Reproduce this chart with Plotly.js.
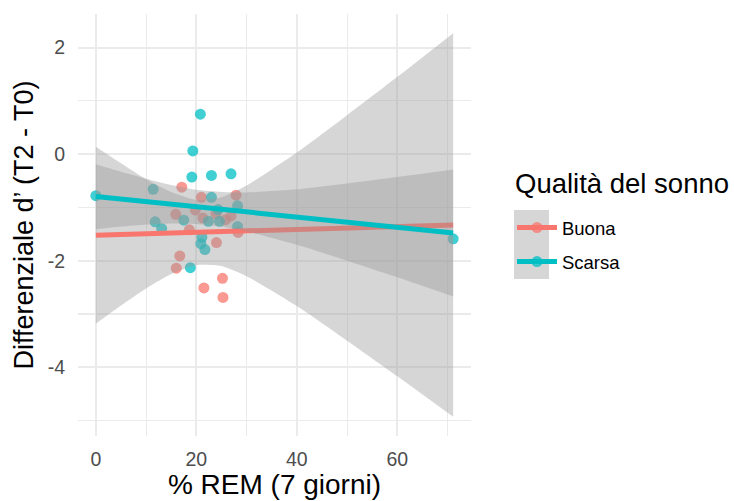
<!DOCTYPE html>
<html>
<head>
<meta charset="utf-8">
<script src="https://cdn.plot.ly/plotly-3.0.1.min.js"></script>
<style>
  html, body { margin: 0; padding: 0; background: #ffffff; }
  #chart { width: 734px; height: 501px; }
</style>
</head>
<body>
<div id="chart"></div>
<script>
// Individual observations: % REM over 7 days vs change in d' (T2 - T0)
const buonaX = [17.1, 21.0, 27.9, 15.9, 19.8, 21.3, 23.9, 26.9, 25.8, 18.6, 28.3, 24.0, 16.7, 16.0, 25.2, 21.5, 25.3];
const buonaY = [-0.62, -0.81, -0.77, -1.13, -1.05, -1.20, -1.12, -1.16, -1.23, -1.42, -1.47, -1.66, -1.91, -2.14, -2.33, -2.51, -2.69];

const scarsaX = [0.0, 20.8, 19.3, 19.1, 23.0, 26.9, 11.4, 23.0, 11.8, 13.1, 17.5, 21.1, 20.9, 21.7, 18.8, 22.4, 24.6, 24.3, 28.2, 28.2, 71.1];
const scarsaY = [-0.78, 0.75, 0.06, -0.43, -0.40, -0.37, -0.66, -0.81, -1.27, -1.40, -1.24, -1.56, -1.68, -1.79, -2.13, -1.26, -1.26, -1.04, -0.97, -1.36, -1.59];

// Linear fits (endpoints of each fitted line)
const fitX = [0, 71.1];
const buonaFit = [-1.52, -1.33];
const scarsaFit = [-0.795, -1.48];

// 95% confidence bands of the fits
const bandX = [0, 5, 10, 15, 20, 25, 30, 40, 50, 60, 71.1];
const buonaHi = [0.14, -0.17, -0.47, -0.71, -0.86, -0.81, -0.59, 0.03, 0.73, 1.45, 2.27];
const buonaLo = [-3.18, -2.84, -2.52, -2.25, -2.08, -2.10, -2.29, -2.85, -3.50, -4.17, -4.93];
const scarsaHi = [-0.19, -0.33, -0.46, -0.58, -0.67, -0.71, -0.72, -0.66, -0.55, -0.43, -0.29];
const scarsaLo = [-1.41, -1.36, -1.32, -1.30, -1.31, -1.36, -1.45, -1.70, -2.00, -2.31, -2.67];

// Axis ticks
const xTicks = [0, 20, 40, 60];
const xTickText = ['0', '20', '40', '60'];
const yTicks = [-4, -2, 0, 2];
const yTickText = ['-4', '-2', '0', '2'];

const groups = ['Buona', 'Scarsa'];
const legendTitle = 'Qualità del sonno';
const RED = '#F8766D';
const TEAL = '#00BFC4';
const BAND = 'rgba(153,153,153,0.4)';
const FONT = 'Liberation Sans, Arial, Helvetica, sans-serif';

function points(x, y, color) {
  return {
    x: x, y: y, type: 'scatter', mode: 'markers', showlegend: false, hoverinfo: 'skip',
    marker: { color: color, size: 11, opacity: 0.75, line: { width: 0 } }
  };
}
function bandEdge(y, fill) {
  return {
    x: bandX, y: y, type: 'scatter', mode: 'lines', showlegend: false, hoverinfo: 'skip',
    line: { width: 0, shape: 'spline', smoothing: 0.6, color: 'rgba(0,0,0,0)' },
    fill: fill, fillcolor: BAND
  };
}
function fitLine(y, color) {
  return {
    x: fitX, y: y, type: 'scatter', mode: 'lines', showlegend: false, hoverinfo: 'skip',
    line: { color: color, width: 5 }
  };
}
function legendKey(name, color) {
  return {
    x: [null], y: [null], type: 'scatter', mode: 'lines+markers', name: name,
    legendgroup: name, showlegend: true,
    line: { color: color, width: 5 },
    marker: { color: color, size: 11, opacity: 0.75 }
  };
}

const data = [
  points(buonaX, buonaY, RED),
  points(scarsaX, scarsaY, TEAL),
  bandEdge(buonaLo, 'none'),
  bandEdge(buonaHi, 'tonexty'),
  fitLine(buonaFit, RED),
  bandEdge(scarsaLo, 'none'),
  bandEdge(scarsaHi, 'tonexty'),
  fitLine(scarsaFit, TEAL),
  legendKey(groups[0], RED),
  legendKey(groups[1], TEAL)
];

const gridCol = '#ebebeb';
const layout = {
  width: 734, height: 501,
  margin: { l: 78, r: 263, t: 14, b: 65, pad: 0 },
  paper_bgcolor: '#ffffff', plot_bgcolor: '#ffffff',
  font: { family: FONT, color: '#000000' },
  showlegend: true,
  xaxis: {
    range: [-3.555, 74.655], autorange: false,
    tickvals: xTicks, ticktext: xTickText,
    showgrid: true, gridcolor: gridCol, gridwidth: 2,
    minor: { dtick: 10, tick0: 0, showgrid: true, gridcolor: gridCol, gridwidth: 1.2 },
    zeroline: false, showline: false, ticks: '',
    tickfont: { size: 19.5, color: '#4d4d4d', family: FONT },
    ticklabelstandoff: 9,
    title: { text: '% REM (7 giorni)', font: { size: 28, color: '#000000', family: FONT }, standoff: 4 },
    automargin: false
  },
  yaxis: {
    range: [-5.289, 2.629], autorange: false,
    tickvals: yTicks, ticktext: yTickText,
    showgrid: true, gridcolor: gridCol, gridwidth: 2,
    minor: { dtick: 1, tick0: 0, showgrid: true, gridcolor: gridCol, gridwidth: 1.2 },
    zeroline: false, showline: false, ticks: '',
    tickfont: { size: 19.5, color: '#4d4d4d', family: FONT },
    ticklabelstandoff: 12,
    title: { text: 'Differenziale d\u2019 (T2 - T0)', font: { size: 27, color: '#000000', family: FONT }, standoff: 6 },
    automargin: false
  },
  legend: {
    x: 1.1043, xanchor: 'left', y: 0.538, yanchor: 'top',
    bgcolor: 'rgba(0,0,0,0)', borderwidth: 0,
    font: { size: 18.5, color: '#000000', family: FONT },
    itemwidth: 40, tracegroupgap: 7, traceorder: 'grouped'
  },
  annotations: [{
    text: legendTitle, xref: 'paper', yref: 'paper', x: 1.1069, y: 0.599,
    xanchor: 'left', yanchor: 'middle', showarrow: false,
    font: { size: 27.5, color: '#000000', family: FONT }
  }],
  shapes: [{
    type: 'rect', xref: 'paper', yref: 'paper', layer: 'below',
    x0: 1.1094, x1: 1.1985, y0: 0.372, y1: 0.5355,
    fillcolor: '#d6d6d6', line: { width: 0 }
  }]
};

Plotly.newPlot('chart', data, layout, { displayModeBar: false, staticPlot: true });
</script>
</body>
</html>
